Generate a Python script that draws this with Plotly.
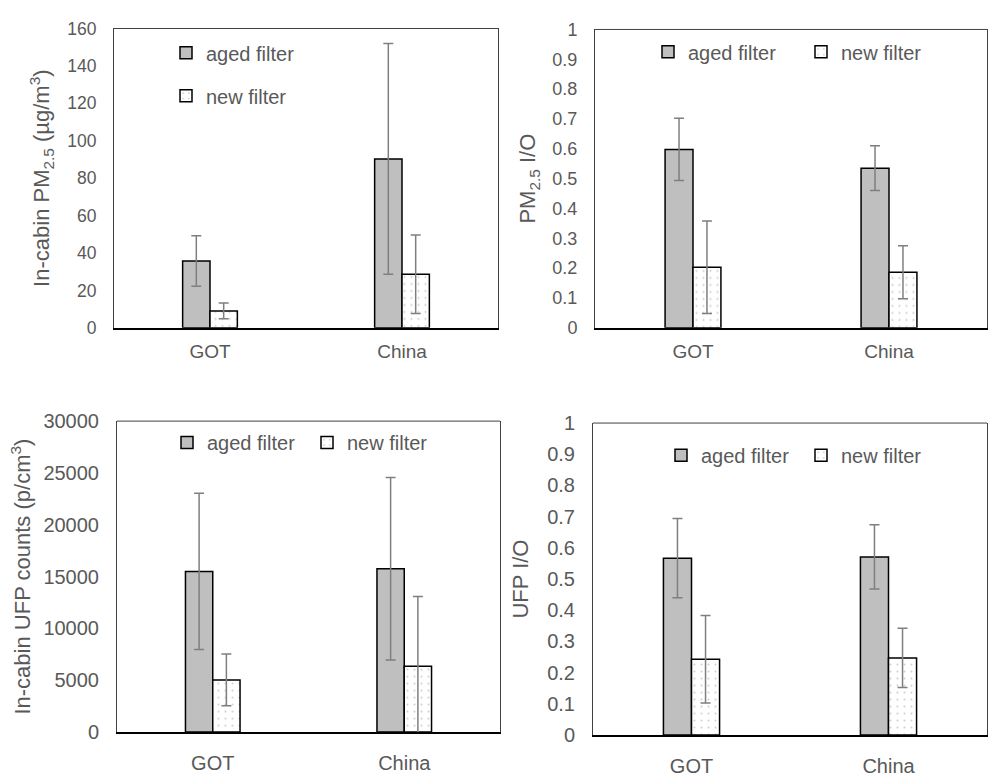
import plotly.graph_objects as go

# Sampling sites
categories = ["GOT", "China"]

# In-cabin PM2.5 concentration (ug/m3): mean and standard deviation
pm_aged = [35.7, 90.3]
pm_aged_sd = [13.5, 61.7]
pm_new = [9.0, 28.6]
pm_new_sd = [4.2, 21.0]

# PM2.5 indoor/outdoor ratio
pm_io_aged = [0.598, 0.535]
pm_io_aged_sd = [0.104, 0.075]
pm_io_new = [0.203, 0.186]
pm_io_new_sd = [0.155, 0.089]

# In-cabin UFP counts (p/cm3)
ufp_aged = [15500, 15750]
ufp_aged_sd = [7530, 8800]
ufp_new = [5030, 6340]
ufp_new_sd = [2500, 6750]

# UFP indoor/outdoor ratio
ufp_io_aged = [0.567, 0.571]
ufp_io_aged_sd = [0.127, 0.103]
ufp_io_new = [0.243, 0.247]
ufp_io_new_sd = [0.140, 0.095]

FONT = "Liberation Sans"
TXT = "#595959"
ERR = "#7f7f7f"

fig = go.Figure()

panels = [
    # (axis suffix, legend id, aged, aged sd, new, new sd)
    ("", "legend", pm_aged, pm_aged_sd, pm_new, pm_new_sd),
    ("2", "legend2", pm_io_aged, pm_io_aged_sd, pm_io_new, pm_io_new_sd),
    ("3", "legend3", ufp_aged, ufp_aged_sd, ufp_new, ufp_new_sd),
    ("4", "legend4", ufp_io_aged, ufp_io_aged_sd, ufp_io_new, ufp_io_new_sd),
]

for sfx, leg, a, a_sd, n, n_sd in panels:
    fig.add_trace(go.Bar(
        x=categories, y=a, name="aged filter",
        xaxis="x" + sfx, yaxis="y" + sfx, legend=leg, legendgroup="aged" + sfx,
        marker=dict(color="#bfbfbf", line=dict(color="black", width=1.5)),
        error_y=dict(type="data", array=a_sd, color=ERR, thickness=1.5, width=5),
        cliponaxis=False,
    ))
    fig.add_trace(go.Bar(
        x=categories, y=n, name="new filter",
        xaxis="x" + sfx, yaxis="y" + sfx, legend=leg, legendgroup="new" + sfx,
        marker=dict(color="white", line=dict(color="black", width=1.5),
                    pattern=dict(shape=".", fgcolor="#a0a0a0", bgcolor="white",
                                 size=7, solidity=0.07)),
        error_y=dict(type="data", array=n_sd, color=ERR, thickness=1.5, width=5),
        cliponaxis=False,
    ))

W, H = 990, 781


def xd(a, b):
    return [a / W, b / W]


def yd(top, bottom):
    return [1 - bottom / H, 1 - top / H]


def xaxis(dom, anchor, size, pad):
    return dict(domain=dom, anchor=anchor, showgrid=False, zeroline=False,
                showline=True, linecolor="black", linewidth=2,
                ticks="outside", ticklen=pad, tickcolor="rgba(0,0,0,0)",
                tickfont=dict(family=FONT, size=size, color=TXT))


def yaxis(dom, anchor, rng, dtick, size, title, standoff, fmt=None):
    d = dict(domain=dom, anchor=anchor, range=rng, dtick=dtick, showgrid=False,
             zeroline=False, showline=True, linecolor="#404040", linewidth=1,
             mirror=True, ticks="outside", ticklen=13, tickcolor="rgba(0,0,0,0)",
             tickfont=dict(family=FONT, size=size, color=TXT),
             title=dict(text=title, font=dict(family=FONT, size=22, color=TXT),
                        standoff=standoff))
    if fmt:
        d["tickformat"] = fmt
    return d


# thin top edge of each plot frame
frame_tops = [
    dict(type="line", xref=f"x{s} domain", yref=f"y{s} domain",
         x0=0, x1=1, y0=1, y1=1, line=dict(color="#404040", width=1))
    for s in ["", "2", "3", "4"]
]

fig.update_layout(
    width=W, height=H, margin=dict(l=0, r=0, t=0, b=0),
    paper_bgcolor="white", plot_bgcolor="white",
    barmode="group", bargap=0.715, bargroupgap=0,
    shapes=frame_tops,
    xaxis=xaxis(xd(114, 498), "y", 19, 5),
    yaxis=yaxis(yd(18, 326), "x", [0, 160], 20, 17.5,
                "In-cabin PM<sub>2.5</sub> (µg/m<sup>3</sup>)", 11),
    xaxis2=xaxis(xd(595, 987), "y2", 19, 5),
    yaxis2=yaxis(yd(19, 326), "x2", [0, 1], 0.1, 18,
                 "PM<sub>2.5</sub> I/O", 10),
    xaxis3=xaxis(xd(117, 500), "y3", 20, 12),
    yaxis3=yaxis(yd(422, 742), "x3", [0, 30000], 5000, 20,
                 "In-cabin UFP counts (p/cm<sup>3</sup>)", 6, fmt="d"),
    xaxis4=xaxis(xd(593, 987), "y4", 20, 12),
    yaxis4=yaxis(yd(424, 745), "x4", [0, 1], 0.1, 20, "UFP I/O", 12),
    legend=dict(x=166 / W, y=1 - 23 / H, xanchor="left", yanchor="top",
                orientation="v", traceorder="grouped", tracegroupgap=14,
                bgcolor="rgba(0,0,0,0)", font=dict(family=FONT, size=20, color=TXT)),
    legend2=dict(x=648 / W, y=1 - 42 / H, xanchor="left", yanchor="middle",
                 orientation="h", entrywidth=108, entrywidthmode="pixels",
                 bgcolor="rgba(0,0,0,0)", font=dict(family=FONT, size=20, color=TXT)),
    legend3=dict(x=167 / W, y=1 - 444 / H, xanchor="left", yanchor="middle",
                 orientation="h", entrywidth=95, entrywidthmode="pixels",
                 bgcolor="rgba(0,0,0,0)", font=dict(family=FONT, size=20, color=TXT)),
    legend4=dict(x=661 / W, y=1 - 457 / H, xanchor="left", yanchor="middle",
                 orientation="h", entrywidth=95, entrywidthmode="pixels",
                 bgcolor="rgba(0,0,0,0)", font=dict(family=FONT, size=20, color=TXT)),
)

fig.write_html("out.html")
